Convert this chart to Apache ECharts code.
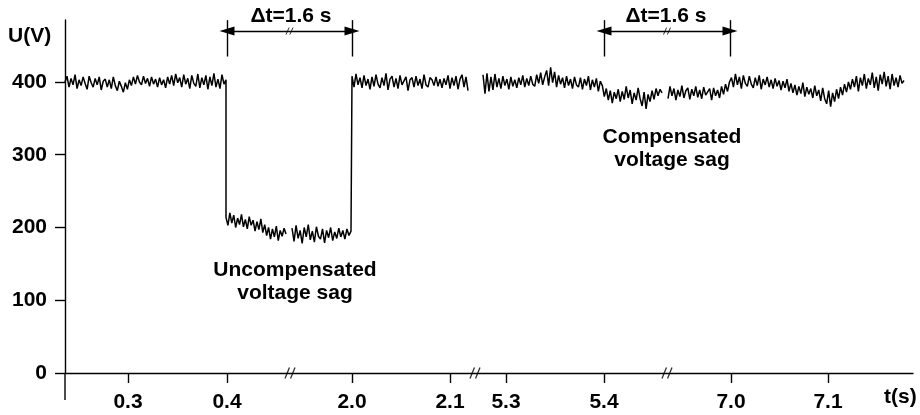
<!DOCTYPE html>
<html><head><meta charset="utf-8">
<script src="https://cdn.jsdelivr.net/npm/echarts@6/dist/echarts.min.js"></script>
<style>html,body{margin:0;padding:0;background:#fff}#c{width:920px;height:415px}</style>
</head><body><div id="c"></div>
<script>
// ---- axis (broken time axis expressed in continuous axis units) ----
const tickPositions = [63, 162, 287, 385, 441, 539, 666, 763];
const tickLabels = ['0.3', '0.4', '2.0', '2.1', '5.3', '5.4', '7.0', '7.1'];
const axisBreaks = [225, 410, 602];
const yTicks = [0, 100, 200, 300, 400];

// ---- measured voltage (V), segments between axis breaks ----
const rangeA = [0, 161];     // before sag
const valuesA = [400,408,393,405,396,410,391,403,395,407,398,390,408,399,393,405,396,407,389,401,
  404,393,403,391,407,395,388,401,394,386,399,390,403,395,407,397,409,400,396,408,
  398,405,394,407,397,404,393,406,396,403,392,407,397,409,395,411,399,406,393,410,
  397,405,391,409,398,394,411,392,406,396,409,390,407,395,412,393,404,391,410,397,403];
const rangeSag1 = [161, 221];  // uncompensated sag, first part
const valuesSag1 = [214,203,220,206,217,200,213,204,218,201,211,198,215,203,210,195,208,197,212,193,
  204,189,200,184,198,187,202,182,196,188,199,191];
const rangeSag2 = [227, 286];  // uncompensated sag, second part
const valuesSag2 = [199,181,203,185,196,178,200,187,204,183,195,180,201,188,184,198,179,196,186,200,
  182,194,185,199,187,196,184,198,189,195];
const rangeB = [287, 403];     // after sag recovery
const valuesB = [408,393,411,396,406,392,409,395,404,390,407,394,410,397,392,406,395,412,389,404,
  408,393,405,391,409,396,394,407,388,403,406,393,408,395,404,391,410,396,393,406,
  403,395,407,394,404,392,405,396,409,391,406,395,408,390,404,410,393,407,388];
const rangeC = [418, 597];     // compensated case, up to sag middle
const valuesC = [410,384,412,387,407,389,411,393,405,391,408,395,404,390,407,394,403,
  392,406,396,409,393,405,395,408,397,394,410,398,413,396,407,416,395,420,399,
  414,393,409,397,406,392,408,395,404,391,407,396,393,406,390,404,395,408,389,403,
  393,405,387,401,395,380,391,375,388,371,386,377,390,373,387,376,394,378,389,370,
  385,375,392,377,367,386,363,383,373,388,376,391,381,390,385];
const rangeD = [603, 839];     // compensated case, sag end and after
const valuesD = [377,394,381,391,375,389,380,395,378,388,392,376,390,381,394,379,389,377,393,382,
  380,391,375,392,381,389,378,394,383,397,387,400,
  406,393,411,396,407,391,409,398,394,408,397,392,406,395,409,390,404,396,407,393,
  403,391,405,394,402,389,401,392,404,387,398,385,396,382,394,384,399,380,393,383,
  391,378,395,381,389,374,392,377,370,388,366,385,373,390,377,393,382,397,386,400,
  390,404,393,408,387,406,395,411,391,405,396,413,392,407,388,410,397,414,394,408,
  390,411,395,406,393,409,398,402];

// ---- annotations (axis units) ----
const deltaSpans = [[162, 287], [539, 665]];
const deltaText = 'Δt=1.6 s';

function seg(range, vals) {
  const n = vals.length, step = (range[1] - range[0]) / (n - 1);
  return vals.map((v, i) => [range[0] + i * step, v]);
}
const pieces = [
  seg(rangeA, valuesA).concat(seg(rangeSag1, valuesSag1)),
  seg(rangeSag2, valuesSag2).concat(seg(rangeB, valuesB)),
  seg(rangeC, valuesC),
  seg(rangeD, valuesD)
];

const FONT = '"Liberation Sans", Arial, Helvetica, sans-serif';
const FS = 21;
const lineSeries = pieces.map(p => ({
  type: 'line', data: p, showSymbol: false, silent: true,
  lineStyle: {color: '#000', width: 1.5}, z: 3
}));

const barY = [435, 485], arrowY = 470;
const markData = [];
deltaSpans.forEach(([a, b]) => {
  markData.push([{coord: [a, barY[0]], symbol: 'none'}, {coord: [a, barY[1]], symbol: 'none'}]);
  markData.push([{coord: [b, barY[0]], symbol: 'none'}, {coord: [b, barY[1]], symbol: 'none'}]);
  markData.push([{coord: [a, arrowY]}, {coord: [b, arrowY]}]);
});

const slash = 'path://M0,12L4,0M5,12L9,0';
const textFont = 'bold ' + FS + 'px ' + FONT;
const texts = [
  {type: 'text', x: 8, y: 26, style: {text: 'U(V)', font: textFont, fill: '#000'}},
  {type: 'text', x: 884, y: 387, style: {text: 't(s)', font: textFont, fill: '#000'}},
  {type: 'text', x: 291, y: 16, style: {text: deltaText, font: textFont, fill: '#000', align: 'center', verticalAlign: 'middle'}},
  {type: 'text', x: 666, y: 16, style: {text: deltaText, font: textFont, fill: '#000', align: 'center', verticalAlign: 'middle'}},
  {type: 'text', x: 295, y: 282, style: {text: 'Uncompensated\nvoltage sag', font: textFont, lineHeight: 23, fill: '#000', align: 'center', verticalAlign: 'middle'}},
  {type: 'text', x: 672, y: 149, style: {text: 'Compensated\nvoltage sag', font: textFont, lineHeight: 23, fill: '#000', align: 'center', verticalAlign: 'middle'}}
];

const chart = echarts.init(document.getElementById('c'));
chart.setOption({
  animation: false,
  backgroundColor: '#fff',
  grid: {left: 65, right: 7, top: 20, bottom: 42, containLabel: false, outerBoundsMode: 'none'},
  xAxis: {
    type: 'value', min: 0, max: 848,
    axisLine: {lineStyle: {color: '#000', width: 1.4}},
    axisTick: {show: true, customValues: tickPositions, length: 10, lineStyle: {color: '#000', width: 1.4}},
    axisLabel: {customValues: tickPositions, formatter: v => tickLabels[tickPositions.indexOf(v)],
      margin: 19, fontSize: FS, fontWeight: 'bold', color: '#000', fontFamily: FONT},
    splitLine: {show: false}
  },
  yAxis: {
    type: 'value', min: 0, max: 485.2,
    axisLine: {show: true, lineStyle: {color: '#000', width: 1.4}},
    axisTick: {show: true, customValues: yTicks, length: 10, lineStyle: {color: '#000', width: 1.4}},
    axisLabel: {customValues: yTicks, margin: 18, fontSize: FS, fontWeight: 'bold', color: '#000', fontFamily: FONT},
    splitLine: {show: false}
  },
  series: lineSeries.concat([
    {
      type: 'line', data: [], silent: true,
      markLine: {
        silent: true, symbol: ['triangle', 'triangle'], symbolSize: [9, 15],
        label: {show: false}, emphasis: {disabled: true},
        lineStyle: {color: '#000', width: 1.4, type: 'solid'},
        data: markData
      }
    },
    {
      type: 'scatter', silent: true, symbol: slash, symbolSize: [10, 11], clip: false,
      itemStyle: {color: 'none', borderColor: '#000', borderWidth: 1.4},
      data: axisBreaks.map(x => [x, 0]), z: 5
    },
    {
      type: 'scatter', silent: true, symbol: slash, symbolSize: [7, 7],
      itemStyle: {color: 'none', borderColor: '#000', borderWidth: 1},
      data: deltaSpans.map(([a, b]) => [(a + b) / 2, arrowY]), z: 5
    }
  ]),
  graphic: texts
});
// the vertical axis line continues a little below U = 0 in the original figure
const origin = chart.convertToPixel({gridIndex: 0}, [0, 0]);
chart.setOption({
  graphic: texts.concat([{
    type: 'line', silent: true,
    shape: {x1: origin[0], y1: origin[1], x2: origin[0], y2: origin[1] + 27},
    style: {stroke: '#000', lineWidth: 1.4}
  }])
});
</script>
</body></html>
